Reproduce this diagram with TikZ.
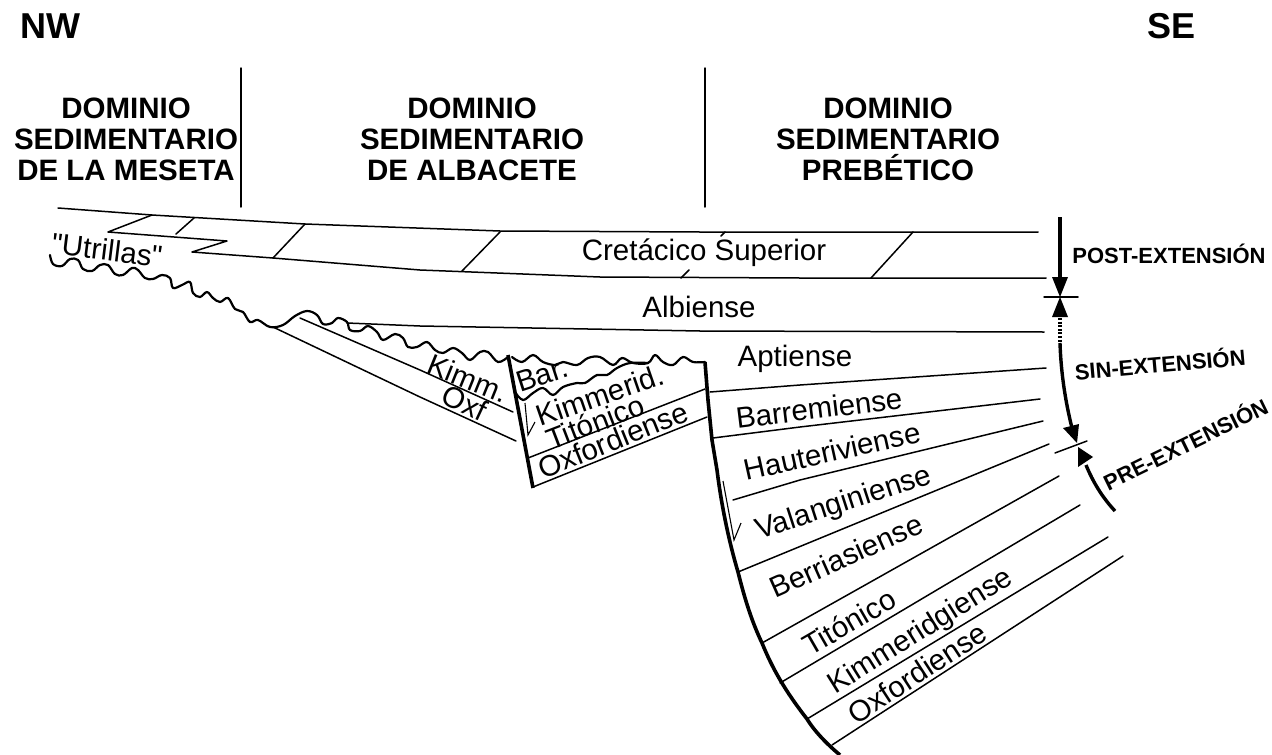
\documentclass[tikz,border=0pt]{standalone}
\usepackage{fontspec}
\setmainfont{Liberation Sans}
\newfontfamily\plainfont{Liberation Sans}
\tikzset{
  thin line/.style={line width=1.5pt,line join=round,line cap=round},
  thick line/.style={line width=3.6pt,line join=round,line cap=butt},
  wave line/.style={line width=2.2pt,line join=round,line cap=round},
  fine line/.style={line width=1.1pt,line join=miter},
  stage/.style={inner sep=0pt,font=\fontsize{29.5}{32}\selectfont},
  head/.style={inner sep=0pt,align=center,font=\fontsize{29.5}{31}\selectfont\bfseries},
  corner/.style={inner sep=0pt,font=\fontsize{36}{38}\selectfont\bfseries},
  phase/.style={inner sep=0pt,font=\fontsize{22}{24}\selectfont\bfseries},
  solid tip/.style={fill=black,draw=none}
}
\begin{document}
\begin{tikzpicture}[x=1pt,y=-1pt]
\useasboundingbox (0,0) rectangle (1272,755);
% headers
\node[corner] (nw) at (50,26) {NW};
\node[corner] (se) at (1171,26) {SE};
\node[head] (dm) at (126,139) {DOMINIO\\SEDIMENTARIO\\DE LA MESETA};
\node[head] (da) at (472,139) {DOMINIO\\SEDIMENTARIO\\DE ALBACETE};
\node[head] (dp) at (888,139) {DOMINIO\\SEDIMENTARIO\\PREBÉTICO};
\draw[thin line] (241,68) -- (241,207);
\draw[thin line] (705,68) -- (705,207);
% upper strata
\draw[thin line] (58,208) -- (152,215) -- (305,224) -- (500,231) -- (700,232) -- (1038,232);
\draw[thin line] (152,215) -- (108,232) -- (227,241) -- (192,252) -- (273,258) -- (420,270) -- (600,277) -- (800,278) -- (1046,278);
\draw[thin line] (194,218) -- (176,234);
\draw[thin line] (305,224) -- (273,258);
\draw[thin line] (500,232) -- (462,271);
\draw[thin line] (725,232) -- (721,236);
\draw[thin line] (913,232) -- (871,278);
\draw[thin line] (689,270) -- (681,278);
\draw[thin line] (347,323) -- (420,326) -- (700,331) -- (1044,332);
% unconformity
\draw[wave line] plot[smooth,tension=0.6] coordinates {
(50,255)(53,264)(62,266)(70,259)(78,260)(83,269)(92,271)(100,265)(108,265)(115,274)(123,275)(132,268)(138,270)(145,278)(153,279)(162,275)(170,278)(173,288)(182,285)(190,282)(193,293)(200,297)(207,292)(213,298)(220,302)(228,298)(235,309)(243,312)(250,322)(258,320)(270,327)(283,325)(295,316)(307,311)(317,315)(323,324)(332,323)(338,318)(347,322)(350,330)(360,331)(368,326)(377,332)(383,340)(395,334)(403,338)(408,347)(417,347)(427,342)(435,350)(443,353)(453,348)(462,353)(470,360)(480,352)(488,352)(498,362)(508,357)};
\draw[wave line] plot[smooth,tension=0.6] coordinates {
(512,357)(522,362)(533,355)(543,362)(555,365)(563,362)(577,365)(588,358)(600,357)(613,365)(622,358)(633,363)(648,363)(655,355)(663,362)(673,365)(683,357)(693,362)(705,362)};
\draw[wave line] plot[smooth,tension=0.6] coordinates {
(515,392)(523,400)(533,393)(543,388)(553,395)(563,387)(577,383)(585,383)(597,375)(607,375)(617,368)(630,363)(648,363)};
% left wedge
\draw[thin line] (300,318) -- (420,370) -- (513,412);
\draw[thin line] (273,327) -- (420,397) -- (516,441);
% faults
\draw[thick line] (508,355) -- (533,488);
\draw[thick line] (705,362) -- (708,400) -- (712,440) -- (717,470) .. controls (722,510) and (730,545) .. (738,572) .. controls (745,600) and (752,622) .. (762,643) .. controls (775,675) and (790,697) .. (807,719) .. controls (815,732) and (828,745) .. (840,755);
% block strata
\draw[thin line] (528,458) -- (705,389);
\draw[thin line] (533,487) -- (707,417);
% right strata
\draw[thin line] (710,392) -- (800,385) -- (1046,368);
\draw[thin line] (713,438) -- (800,427) -- (1040,399);
\draw[thin line] (733,500) -- (800,480) -- (1043,421);
\draw[thin line] (738,572) -- (1049,444);
\draw[thin line] (762,643) -- (1059,476);
\draw[thin line] (780,683) -- (1080,505);
\draw[thin line] (807,719) -- (1108,537);
\draw[thin line] (832,745) -- (1123,556);
% half arrows
\draw[fine line] (525,403) -- (528,435) -- (535,422);
\draw[fine line] (723,481) -- (734,540) -- (741,523);
% phase arrows
\draw[line width=3.4pt] (1060,217) -- (1060,280);
\fill[solid tip] (1052,277) -- (1068,277) -- (1060,297) -- cycle;
\draw[thin line] (1044,297) -- (1078,297);
\fill[solid tip] (1052,317) -- (1068,317) -- (1060,297) -- cycle;
\draw[line width=3.4pt,dash pattern=on 2pt off 1.6pt] (1060,318) -- (1060,343);
\draw[line width=3.4pt] (1060,343) .. controls (1061,375) and (1066,405) .. (1073,432);
\fill[solid tip] (1063,428) -- (1079,424) -- (1077,443) -- cycle;
\draw[thin line] (1055,453) -- (1087,441);
\fill[solid tip] (1078,447) -- (1078,467) -- (1093,457) -- cycle;
\draw[line width=3.4pt] (1086,465) .. controls (1093,482) and (1102,497) .. (1115,511);
% labels
\node[stage] (utr) at (107,250) [rotate=-7] {\plainfont"Utrillas"};
\node[stage] (cs) at (704,253) {Cretácico Superior};
\node[stage] (alb) at (699,307) {Albiense};
\node[stage] (apt) at (795,359) {Aptiense};
\node[stage] (bar) at (819,408) [rotate=7] {Barremiense};
\node[stage] (hau) at (832,451) [rotate=12.5] {Hauteriviense};
\node[stage] (val) at (844,504) [rotate=18] {Valanginiense};
\node[stage] (ber) at (846,556) [rotate=24] {Berriasiense};
\node[stage] (tit) at (849,622) [rotate=30] {Titónico};
\node[stage] (kim) at (921,632) [rotate=32] {Kimmeridgiense};
\node[stage] (oxf) at (917,673) [rotate=33] {Oxfordiense};
\node[stage] (kimm) at (468,378) [rotate=-22] {Kimm.};
\node[stage] (oxtl) at (465,403) [rotate=-25] {Oxf};
\node[stage] (barb) at (542,375) [rotate=18] {Bar.};
\node[stage] (kimb) at (600,395) [rotate=19] {Kimmerid.};
\node[stage] (titb) at (595,422) [rotate=21] {Titónico};
\node[stage] (oxfb) at (613,440) [rotate=22] {Oxfordiense};
\node[phase] (post) at (1169,254) {POST-EXTENSIÓN};
\node[phase] (sin) at (1160,363) [rotate=5] {SIN-EXTENSIÓN};
\node[phase] (pre) at (1185,443) [rotate=26] {PRE-EXTENSIÓN};
\end{tikzpicture}
\end{document}
